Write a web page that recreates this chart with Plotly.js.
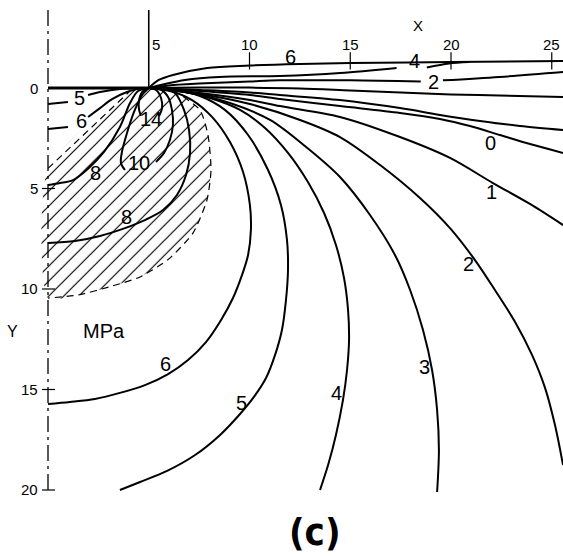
<!DOCTYPE html>
<html>
<head>
<meta charset="utf-8">
<script src="https://cdn.plot.ly/plotly-3.0.1.min.js"></script>
<style>
  html, body { margin: 0; padding: 0; background: #fff; }
  #chart { width: 563px; height: 556px; }
</style>
</head>
<body>
<div id="chart"></div>
<script>
// Stress contours (MPa) in a half-section below a loaded strip:
// x runs along the surface, y runs into the depth; the strip edge sits at x = 5.

// Shallow contours that run out to the right edge
const c6TopX = [5, 5.5, 6.2, 7.9, 10, 12.5, 15, 20, 25.6];
const c6TopY = [0, -0.4, -0.65, -1.0, -1.12, -1.2, -1.24, -1.29, -1.34];
const c4TopAX = [5, 5.8, 6.8, 8.5, 11.5, 14.5, 17.3];
const c4TopAY = [0, -0.2, -0.4, -0.55, -0.6, -0.75, -1.0];
const c4TopBX = [18.8, 19.9, 20.9];
const c4TopBY = [-1.02, -1.22, -1.29];
const c2TopAX = [5, 6, 7.5, 10, 11.5, 15, 18.5];
const c2TopAY = [0, -0.13, -0.22, -0.32, -0.38, -0.38, -0.32];
const c2TopBX = [19.6, 22.4, 25.6];
const c2TopBY = [-0.38, -0.55, -0.8];
const cMidX = [5, 7.5, 10, 12.5, 15, 17.5, 20, 22.4, 25.6];
const cMidY = [0, -0.02, -0.02, 0.02, 0.12, 0.22, 0.32, 0.37, 0.45];
const c0AX = [5, 7.54, 10.02, 11.51, 14.49, 17.47, 19.45, 21.44, 23.42, 25.56];
const c0AY = [0, 0.1, 0.22, 0.35, 0.6, 1.0, 1.34, 1.64, 1.89, 2.09];
const c0BX = [5, 7.54, 10.02, 11.51, 14.49, 17.47, 19.45, 20.94, 22.43, 23.92, 25.56];
const c0BY = [0, 0.15, 0.35, 0.55, 0.9, 1.24, 1.54, 1.89, 2.34, 2.79, 3.23];
const c1X = [5, 7.54, 10.02, 11.51, 14.49, 17.47, 19.95, 22.08, 23.92, 25.56];
const c1Y = [0, 0.25, 0.6, 0.9, 1.44, 2.44, 3.48, 4.73, 5.77, 6.82];

// Deep contours that bend back down
const c2X = [5, 7.54, 10.02, 12.51, 14.49, 16.48, 18.46, 19.95, 21.19, 22.18, 23.18, 24.02, 24.67, 25.16, 25.56];
const c2Y = [0, 0.3, 0.8, 1.59, 2.44, 3.83, 5.47, 6.97, 8.56, 10.05, 11.64, 13.28, 14.93, 16.77, 18.76];
const c3X = [5, 7.05, 9.03, 11.02, 12.75, 14.49, 15.98, 17.22, 17.97, 18.61, 19.06, 19.31, 19.4, 19.31];
const c3Y = [0, 0.25, 0.75, 1.59, 2.89, 4.43, 6.32, 8.31, 10.05, 12.04, 14.03, 16.02, 18.01, 20.1];
const c4X = [5, 6.55, 8.04, 9.53, 10.77, 11.91, 12.9, 13.7, 14.29, 14.69, 14.89, 14.94, 14.84, 14.64, 14.29, 13.9, 13.5];
const c4Y = [0, 0.15, 0.5, 1.09, 1.99, 3.23, 4.68, 6.22, 7.81, 9.45, 11.04, 12.54, 14.03, 15.52, 17.26, 18.76, 20.0];
const c5X = [5, 6.3, 7.54, 8.78, 9.93, 10.92, 11.56, 11.86, 11.91, 11.81, 11.61, 11.27, 10.82, 10.22, 9.53, 8.54, 7.3, 5.91, 4.57, 3.57];
const c5Y = [0, 0.1, 0.4, 1.09, 2.34, 4.08, 5.82, 7.56, 9.05, 10.55, 12.04, 13.28, 14.43, 15.37, 16.22, 17.26, 18.26, 19.05, 19.6, 20.0];
const c6X = [5, 6.05, 7.15, 8.14, 9.03, 9.68, 10.02, 10.07, 9.93, 9.63, 9.18, 8.59, 7.84, 6.95, 5.96, 4.81, 3.57, 2.33, 1.09, 0];
const c6Y = [0, 0.15, 0.6, 1.44, 2.69, 4.18, 5.82, 7.06, 8.31, 9.3, 10.45, 11.54, 12.64, 13.53, 14.23, 14.78, 15.17, 15.47, 15.62, 15.72];

// Closed loops under the strip edge
const c8OuterX = [5, 5.81, 6.3, 6.75, 7.0, 7.05, 6.85, 6.4, 5.71, 4.81, 3.82, 2.58, 1.34, 0];
const c8OuterY = [0, 0.05, 0.25, 1.09, 2.09, 3.23, 4.33, 5.32, 6.07, 6.57, 6.97, 7.36, 7.61, 7.71];
const c8InnerX = [0, 0.6, 1.24, 2.0, 2.78, 3.57, 4.07, 4.47, 5];
const c8InnerY = [4.83, 4.73, 4.58, 4.0, 3.18, 1.94, 0.75, 0.15, 0];
const c10LeftX = [5, 4.67, 4.27, 3.92, 3.67, 3.62, 3.82];
const c10LeftY = [0, 0.35, 1.19, 2.24, 3.18, 3.73, 4.08];
const c10RightX = [5, 5.56, 5.96, 6.15, 6.2, 6.05, 5.76, 5.36];
const c10RightY = [0, 0.05, 0.45, 1.09, 1.84, 2.59, 3.23, 3.68];
const c14LeftX = [5, 4.67, 4.52, 4.52, 4.62];
const c14LeftY = [0, 0.2, 0.6, 1.09, 1.39];
const c14RightX = [5, 5.36, 5.61, 5.66, 5.51];
const c14RightY = [0, 0.1, 0.5, 1.0, 1.39];

// Short contours under the loaded strip, split where their level is written
const s5AX = [0, 0.99];
const s5AY = [0.8, 0.7];
const s5BX = [1.99, 2.58, 3.57, 5];
const s5BY = [0.35, 0.2, 0.05, 0];
const s6AX = [0, 0.99];
const s6AY = [2.04, 1.94];
const s6BX = [1.99, 2.58, 3.18, 3.92, 4.57];
const s6BY = [1.44, 1.0, 0.55, 0.2, 0.02];

// Hatched zone
const zoneX = [0, 4.07, 5, 6.3, 7.54, 7.94, 8.09, 7.89, 7.2, 6.0, 4.57, 3.2, 1.5, 0, 0];
const zoneY = [4.0, 0.15, 0, 0.2, 1.09, 2.34, 4.08, 5.57, 7.21, 8.5, 9.4, 9.85, 10.3, 10.45, 4.0];
const zoneRimX = [5, 6.3, 7.54, 7.94, 8.09, 7.89, 7.2, 6.0, 4.57, 3.2, 1.5, 0];
const zoneRimY = [0, 0.2, 1.09, 2.34, 4.08, 5.57, 7.21, 8.5, 9.4, 9.85, 10.3, 10.45];
const zoneTopX = [0, 4.07];
const zoneTopY = [4.0, 0.15];

// Axes
const xTicks = [10, 15, 20, 25];
const xTickText = ['5', '10', '15', '20', '25'];
const xTickTextAt = [5, 10, 15, 20, 25];
const yTicks = [5, 10, 15, 20];
const yTickText = ['0', '5', '10', '15', '20'];
const yTickTextAt = [0, 5, 10, 15, 20];

// Contour levels written beside the lines
const levelText = ['6', '4', '2', '0', '1', '2', '3', '4', '5', '6', '8', '8', '10', '14', '5', '6'];
const levelX = [12.01, 18.21, 19.11, 21.94, 22.03, 20.85, 18.66, 14.34, 9.58, 5.81, 3.92, 2.38, 4.52, 5.11, 1.54, 1.64];
const levelY = [-1.54, -1.34, -0.3, 2.74, 5.17, 8.75, 13.88, 15.17, 15.67, 13.73, 6.42, 4.23, 3.73, 1.54, 0.5, 1.64];

const FONT = 'Liberation Sans, Arial, Helvetica, sans-serif';

function curve(x, y, extra) {
  const ln = Object.assign({ color: '#000', width: 2, shape: 'spline', smoothing: 0.9 }, extra || {});
  return { type: 'scatter', mode: 'lines', x: x, y: y, line: ln, hoverinfo: 'skip', showlegend: false };
}

const traces = [];

// hatching
traces.push({
  type: 'scatter', mode: 'lines', x: zoneX, y: zoneY,
  fill: 'toself', fillcolor: 'rgba(255,255,255,0)',
  fillpattern: { shape: '/', size: 10.6, solidity: 0.11, fgcolor: '#000', bgcolor: '#fff', fgopacity: 1 },
  line: { width: 0, color: 'rgba(0,0,0,0)', shape: 'spline', smoothing: 0.6 },
  hoverinfo: 'skip', showlegend: false
});
traces.push(curve(zoneRimX, zoneRimY, { width: 1.2, dash: '7px,5px', smoothing: 0.6 }));
traces.push(curve(zoneTopX, zoneTopY, { width: 1.2, dash: '7px,5px', shape: 'linear' }));

// frame: symmetry axis, loaded surface and strip edge
traces.push(curve([0, 0], [-3.88, 20], { width: 1.3, dash: '16px,5px,3px,5px', shape: 'linear' }));
traces.push(curve([0, 5], [0, 0], { width: 3, shape: 'linear' }));
traces.push(curve([5, 5], [-3.88, 0], { width: 1.6, shape: 'linear' }));

// tick marks
const tx = [], ty = [];
xTicks.forEach(function (v) { tx.push(v, v, null); ty.push(-1.78, -0.92, null); });
traces.push(curve(tx, ty, { width: 1.2, shape: 'linear' }));
const ux = [], uy = [];
yTicks.forEach(function (v) { ux.push(-0.3, 0.35, null); uy.push(v, v, null); });
traces.push(curve(ux, uy, { width: 1.2, shape: 'linear' }));

// contours
[
  [c6TopX, c6TopY], [c4TopAX, c4TopAY], [c4TopBX, c4TopBY], [c2TopAX, c2TopAY], [c2TopBX, c2TopBY],
  [cMidX, cMidY], [c0AX, c0AY], [c0BX, c0BY], [c1X, c1Y],
  [c2X, c2Y], [c3X, c3Y], [c4X, c4Y], [c5X, c5Y], [c6X, c6Y],
  [c8OuterX, c8OuterY], [c8InnerX, c8InnerY], [c10LeftX, c10LeftY], [c10RightX, c10RightY],
  [c14LeftX, c14LeftY], [c14RightX, c14RightY],
  [s5AX, s5AY], [s5BX, s5BY], [s6AX, s6AY], [s6BX, s6BY]
].forEach(function (p) { traces.push(curve(p[0], p[1])); });

const annotations = [];
function note(text, x, y, size, opts) {
  annotations.push(Object.assign({
    text: text, x: x, y: y, xref: 'x', yref: 'y', showarrow: false,
    font: { family: FONT, size: size, color: '#000' }, xanchor: 'center', yanchor: 'middle'
  }, opts || {}));
}
xTickText.forEach(function (t, i) { note(t, xTickTextAt[i] + (i === 0 ? 0.36 : 0), -2.15, 15); });
yTickText.forEach(function (t, i) { note(t, -0.38, yTickTextAt[i], 15, { xanchor: 'right' }); });
levelText.forEach(function (t, i) { note(t, levelX[i], levelY[i], 20); });
note('X', 18.36, -3.13, 15);
note('Y', -1.75, 12.09, 16);
note('MPa', 2.78, 12.09, 20);
note('<b>(c)</b>', 13.25, 22.1, 38, { font: { family: 'Liberation Sans Narrow, DejaVu Sans Condensed, ' + FONT, size: 38, color: '#000' } });

const layout = {
  width: 563, height: 556,
  margin: { l: 0, r: 0, t: 0, b: 0 },
  paper_bgcolor: '#fff', plot_bgcolor: '#fff',
  xaxis: { range: [-2.382, 25.558], visible: false, fixedrange: true },
  yaxis: { range: [23.284, -4.378], visible: false, fixedrange: true },
  annotations: annotations,
  showlegend: false
};

Plotly.newPlot('chart', traces, layout, { displayModeBar: false, staticPlot: true });
</script>
</body>
</html>
